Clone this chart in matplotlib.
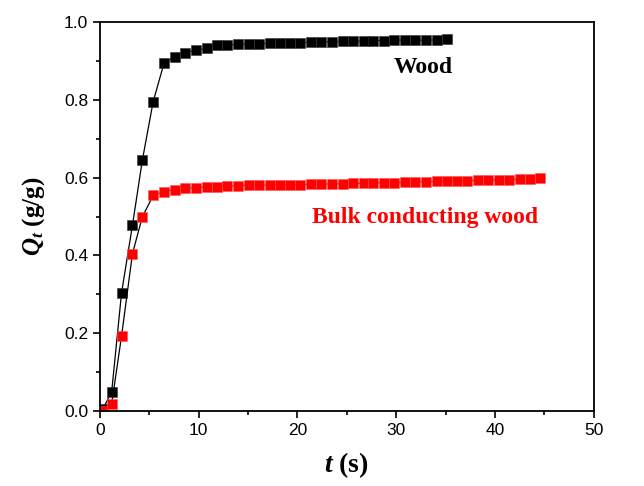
import matplotlib
matplotlib.use("Agg")
import matplotlib.pyplot as plt
from matplotlib.ticker import MultipleLocator

plt.rcParams["mathtext.fontset"] = "custom"
plt.rcParams["mathtext.it"] = "Liberation Serif:italic:bold"
plt.rcParams["mathtext.rm"] = "Liberation Serif:bold"

# time points (s)
t = [0.3, 1.2, 2.2, 3.3, 4.3, 5.4, 6.5, 7.6, 8.6, 9.7,
     10.8, 11.9, 12.9, 14.0, 15.1, 16.1, 17.2, 18.2, 19.3, 20.3,
     21.4, 22.4, 23.5, 24.6, 25.6, 26.7, 27.7, 28.8, 29.8, 30.9,
     31.9, 33.0, 34.1, 35.1, 36.2, 37.2, 38.3, 39.3, 40.4, 41.4,
     42.5, 43.5, 44.6]

# Qt for wood (first 34 time points)
wood = [0.005, 0.050, 0.304, 0.477, 0.644, 0.795, 0.894, 0.911, 0.920, 0.927,
        0.932, 0.940, 0.941, 0.942, 0.943, 0.944, 0.945, 0.946, 0.946, 0.947,
        0.948, 0.949, 0.949, 0.950, 0.950, 0.951, 0.952, 0.952, 0.953, 0.954,
        0.953, 0.953, 0.954, 0.955]

# Qt for bulk conducting wood
bulk = [0.000, 0.019, 0.193, 0.404, 0.499, 0.554, 0.564, 0.569, 0.572, 0.574,
        0.576, 0.577, 0.578, 0.579, 0.580, 0.580, 0.581, 0.581, 0.582, 0.582,
        0.583, 0.583, 0.584, 0.584, 0.585, 0.585, 0.586, 0.587, 0.587, 0.588,
        0.589, 0.589, 0.590, 0.591, 0.591, 0.592, 0.593, 0.593, 0.594, 0.595,
        0.596, 0.596, 0.598]

fig = plt.figure(figsize=(6.44, 4.86), dpi=100)
ax = fig.add_axes([0.155, 0.154, 0.767, 0.801])

ax.plot(t[:len(wood)], wood, color="black", lw=0.9, marker="s", ms=7.2,
        mfc="black", mec="#333333", mew=0.4)
ax.plot(t[:len(bulk)], bulk, color="black", lw=0.9, marker="s", ms=7.2,
        mfc="red", mec="#ff5555", mew=0.4)

ax.set_xlim(0, 50)
ax.set_ylim(0, 1.0)
ax.xaxis.set_major_locator(MultipleLocator(10))
ax.xaxis.set_minor_locator(MultipleLocator(5))
ax.yaxis.set_major_locator(MultipleLocator(0.2))
ax.yaxis.set_minor_locator(MultipleLocator(0.1))
ax.yaxis.set_major_formatter(plt.FuncFormatter(lambda v, p: f"{v:.1f}"))

ax.tick_params(which="both", direction="out", width=1.2, top=False, right=False)
ax.tick_params(which="major", length=5, labelsize=12.5)
ax.tick_params(which="minor", length=3)
for lab in ax.get_xticklabels() + ax.get_yticklabels():
    lab.set_fontfamily("Liberation Sans")
for s in ax.spines.values():
    s.set_linewidth(1.3)

ax.set_xlabel(r"$t$ (s)", fontsize=20, fontweight="bold",
              family="Liberation Serif", labelpad=9)
ax.set_ylabel(r"$Q_t$ (g/g)", fontsize=18, fontweight="bold",
              family="Liberation Serif", labelpad=12)

ax.text(32.7, 0.882, "Wood", fontsize=17, fontweight="bold",
        family="Liberation Serif", ha="center", va="center", color="black")
ax.text(32.9, 0.497, "Bulk conducting wood", fontsize=17, fontweight="bold",
        family="Liberation Serif", ha="center", va="center", color="red")

fig.savefig("out.png", dpi=100)
